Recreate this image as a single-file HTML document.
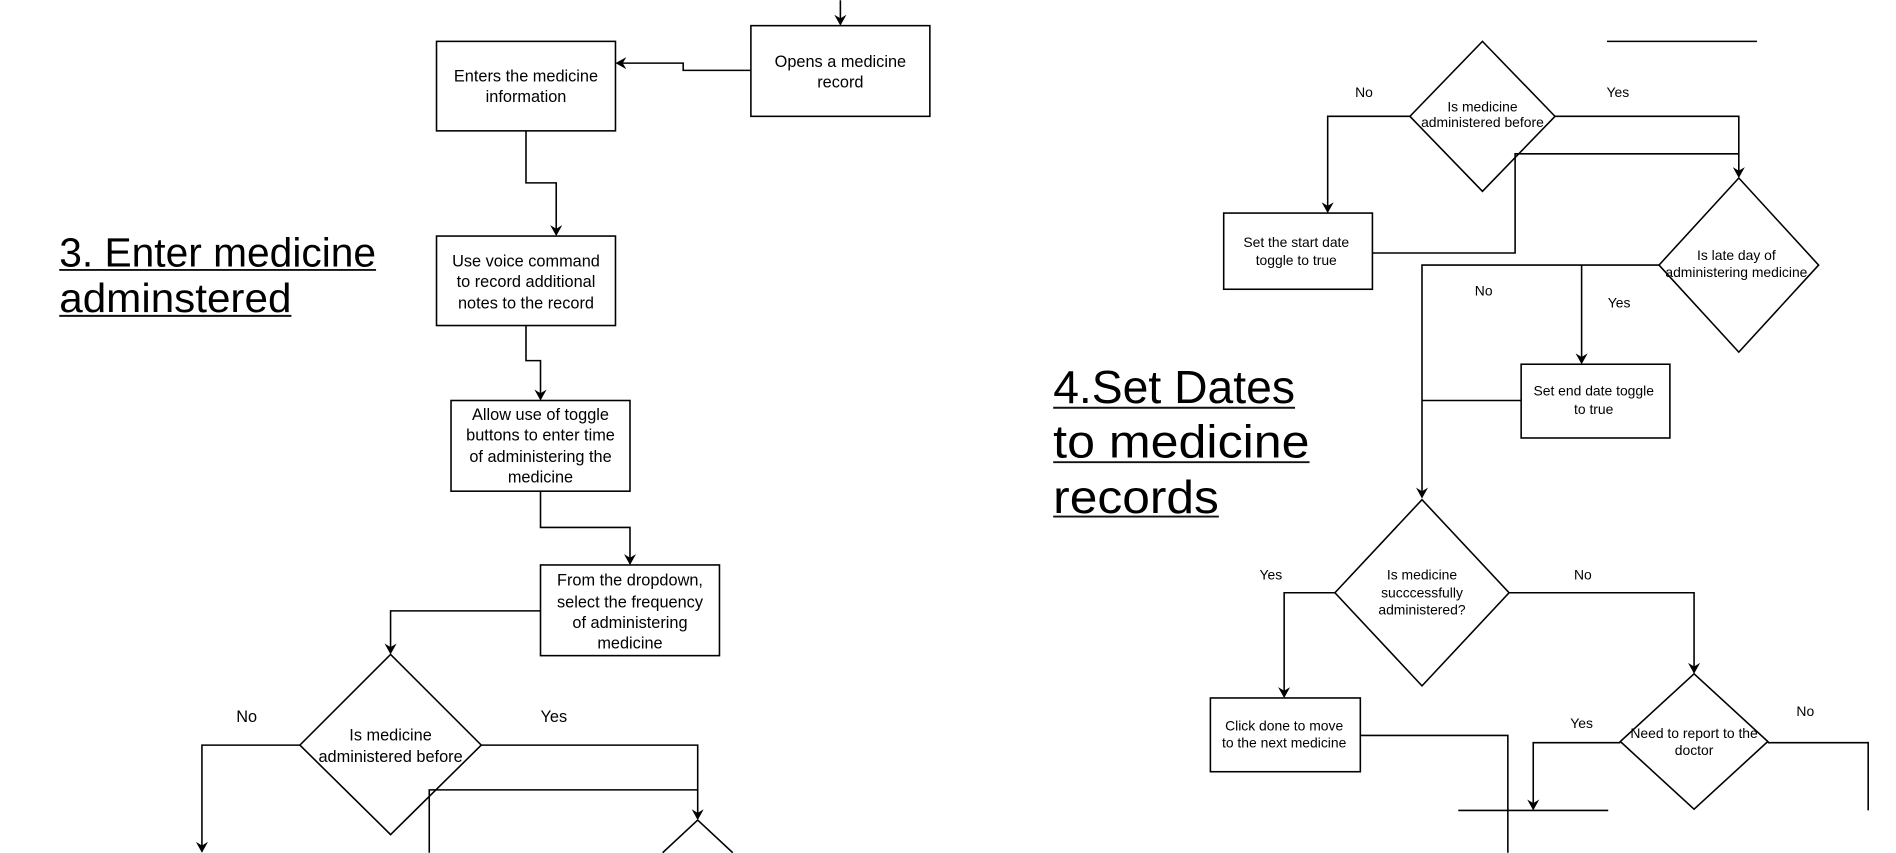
<!DOCTYPE html>
<html><head><meta charset="utf-8"><style>
html,body{margin:0;padding:0;background:#fff;}
svg{display:block}
text{font-family:"Liberation Sans",Arial,sans-serif;fill:#000}
.s{font-size:13.5px}
.r{font-size:11.5px}
.h{font-size:34px;fill:#111}
</style></head><body>
<svg width="1896" height="853" viewBox="0 0 1568 705" xmlns="http://www.w3.org/2000/svg">
<defs><marker id="a" markerWidth="10" markerHeight="10" refX="8" refY="5" orient="auto" markerUnits="userSpaceOnUse"><path d="M0,0 L9,5 L0,10 L3,5 z" fill="#000"/></marker></defs>
<g fill="none" stroke="#000" stroke-width="1.3">
<!-- left -->
<path d="M695,0 V20" marker-end="url(#a)"/>
<rect x="621" y="21" width="148" height="75" fill="#fff"/>
<rect x="361" y="34" width="148" height="74" fill="#fff"/>
<path d="M621,58 H565 V52 H510" marker-end="url(#a)"/>
<path d="M435,108 V151 H460 V194" marker-end="url(#a)"/>
<rect x="361" y="195" width="148" height="74"/>
<path d="M435,269 V298 H447 V330" marker-end="url(#a)"/>
<rect x="373" y="331" width="148" height="75"/>
<path d="M447,406 V436 H521 V466" marker-end="url(#a)"/>
<rect x="447" y="467" width="148" height="75"/>
<path d="M447,505 H323 V540" marker-end="url(#a)"/>
<path d="M323,541 L398,616 L323,690 L248,616 Z"/>
<path d="M248,616 H167 V704" marker-end="url(#a)"/>
<path d="M398,616 H577 V677" marker-end="url(#a)"/>
<path d="M355,705 V653 H577"/>
<path d="M548,705 L577,678 L606,705"/>
<!-- right -->
<path d="M1329,34 H1453"/>
<path d="M1226,34 L1286,96 L1226,158 L1166,96 Z"/>
<path d="M1166,96 H1098 V175" marker-end="url(#a)"/>
<path d="M1286,96 H1438 V146" marker-end="url(#a)"/>
<path d="M1438,127 H1253 V209 H1135"/>
<rect x="1012" y="176" width="123" height="63"/>
<path d="M1438,147 L1504,219 L1438,291 L1372,219 Z"/>
<path d="M1372,219 H1176 V411" marker-end="url(#a)"/>
<path d="M1308,219 V300" marker-end="url(#a)"/>
<rect x="1258" y="301" width="123" height="61"/>
<path d="M1258,331 H1176"/>
<path d="M1176,413 L1248,490 L1176,567 L1104,490 Z"/>
<path d="M1104,490 H1062 V576" marker-end="url(#a)"/>
<path d="M1248,490 H1401 V556" marker-end="url(#a)"/>
<rect x="1001" y="577" width="124" height="61"/>
<path d="M1125,608 H1247 V705"/>
<path d="M1206,670 H1330"/>
<path d="M1401,557 L1462,613 L1401,669 L1340,613 Z"/>
<path d="M1340,614 H1268 V669" marker-end="url(#a)"/>
<path d="M1462,614 H1545 V670"/>
</g>
<g text-anchor="middle" class="s">
<text x="695" y="55">Opens a medicine</text><text x="695" y="72">record</text>
<text x="435" y="67">Enters the medicine</text><text x="435" y="84">information</text>
<text x="435" y="220">Use voice command</text><text x="435" y="237">to record additional</text><text x="435" y="255">notes to the record</text>
<text x="447" y="347">Allow use of toggle</text><text x="447" y="364">buttons to enter time</text><text x="447" y="382">of administering the</text><text x="447" y="399">medicine</text>
<text x="521" y="484">From the dropdown,</text><text x="521" y="502">select the frequency</text><text x="521" y="519">of administering</text><text x="521" y="536">medicine</text>
<text x="323" y="612">Is medicine</text><text x="323" y="630">administered before</text>
<text x="204" y="597">No</text><text x="458" y="597">Yes</text>
</g>
<g text-anchor="middle" class="r">
<text x="1226" y="92">Is medicine</text><text x="1226" y="105">administered before</text>
<text x="1128" y="80">No</text><text x="1338" y="80">Yes</text>
<text x="1072" y="204">Set the start date</text><text x="1072" y="219">toggle to true</text>
<text x="1436" y="215">Is late day of</text><text x="1436" y="229">administering medicine</text>
<text x="1227" y="244">No</text><text x="1339" y="254">Yes</text>
<text x="1318" y="327">Set end date toggle</text><text x="1318" y="342">to true</text>
<text x="1176" y="479">Is medicine</text><text x="1176" y="494">succcessfully</text><text x="1176" y="508">administered?</text>
<text x="1051" y="479">Yes</text><text x="1309" y="479">No</text>
<text x="1062" y="604">Click done to move</text><text x="1062" y="618">to the next medicine</text>
<text x="1401" y="610">Need to report to the</text><text x="1401" y="624">doctor</text>
<text x="1308" y="602">Yes</text><text x="1493" y="592">No</text>
</g>
<g class="h">
<text x="49" y="220" textLength="262" lengthAdjust="spacingAndGlyphs">3. Enter medicine</text>
<text x="49" y="258" textLength="192" lengthAdjust="spacingAndGlyphs">adminstered</text>
<text x="871" y="333" textLength="200" lengthAdjust="spacingAndGlyphs" style="font-size:38px">4.Set Dates</text>
<text x="871" y="378" textLength="212" lengthAdjust="spacingAndGlyphs" style="font-size:38px">to medicine</text>
<text x="871" y="424" textLength="137" lengthAdjust="spacingAndGlyphs" style="font-size:38px">records</text>
</g>
<g stroke="#111" stroke-width="1.6">
<path d="M49,223 H311 M49,261 H241 M871,337 H1071 M871,382 H1083 M871,427 H1008"/>
</g>
</svg>
</body></html>
